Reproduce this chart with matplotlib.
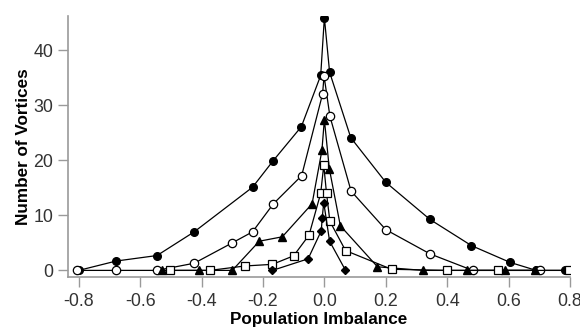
import matplotlib
matplotlib.use("Agg")
import matplotlib.pyplot as plt
from matplotlib.ticker import FuncFormatter

plt.rcParams['font.family'] = ['Liberation Sans', 'DejaVu Sans']

# Filled circles
fc_x = [-0.80, -0.678, -0.545, -0.424, -0.234, -0.167, -0.075, -0.012, 0.0, 0.017, 0.086, 0.20, 0.344, 0.479, 0.605, 0.69, 0.783]
fc_y = [0, 1.7, 2.7, 7.0, 15.1, 19.9, 26.1, 35.4, 45.9, 36.0, 24.1, 16.0, 9.25, 4.5, 1.45, 0, 0]
# Open circles
oc_x = [-0.806, -0.678, -0.545, -0.424, -0.30, -0.234, -0.166, -0.074, -0.006, -0.001, 0.018, 0.087, 0.20, 0.344, 0.483, 0.703]
oc_y = [0, 0, 0, 1.3, 5.0, 7.0, 12.1, 17.2, 32.0, 35.3, 28.0, 14.4, 7.4, 3.0, 0, 0]
# Filled triangles
tr_x = [-0.528, -0.409, -0.30, -0.212, -0.137, -0.04, -0.008, 0.0, 0.016, 0.052, 0.173, 0.322, 0.463, 0.588, 0.686]
tr_y = [0, 0, 0, 5.3, 6.1, 12.1, 21.8, 27.4, 18.5, 8.1, 0.65, 0, 0, 0, 0]
# Open squares
sq_x = [-0.503, -0.373, -0.259, -0.169, -0.10, -0.05, -0.012, -0.002, 0.007, 0.018, 0.069, 0.219, 0.398, 0.566, 0.797]
sq_y = [0, 0, 0.8, 1.1, 2.65, 6.4, 14.0, 19.1, 14.0, 8.9, 3.6, 0.2, 0, 0, 0]
# Filled diamonds
dm_x = [-0.169, -0.053, -0.01, -0.007, -0.002, 0.017, 0.068]
dm_y = [0, 2.1, 7.2, 9.6, 12.3, 5.3, 0.1]

x_ticks = [-0.8, -0.6, -0.4, -0.2, 0.0, 0.2, 0.4, 0.6, 0.8]
y_ticks = [0, 10, 20, 30, 40]

fig = plt.figure(figsize=(5.8, 3.29), dpi=100)
ax = fig.add_axes([68/580, 1-277/329, (570-68)/580, (277-16)/329])

lw = 0.9
ax.plot(fc_x, fc_y, '-o', color='black', lw=lw, ms=5.5, mfc='black', mec='black', zorder=3)
ax.plot(oc_x, oc_y, '-o', color='black', lw=lw, ms=6, mfc='white', mec='black', mew=0.9, zorder=4)
ax.plot(tr_x, tr_y, '-^', color='black', lw=lw, ms=6, mfc='black', mec='black', zorder=5)
ax.plot(sq_x, sq_y, '-s', color='black', lw=lw, ms=5.5, mfc='white', mec='black', mew=0.9, zorder=6)
ax.plot(dm_x, dm_y, '-D', color='black', lw=lw, ms=4.5, mfc='black', mec='black', zorder=7)

ax.set_xlim(-0.835, 0.80)
ax.set_ylim(-1.2, 46.2)
ax.set_xticks(x_ticks)
ax.set_yticks(y_ticks)
ax.xaxis.set_major_formatter(FuncFormatter(lambda v, p: f"{v:.1f}".replace('\u2212', '-')))
ax.yaxis.set_major_formatter(FuncFormatter(lambda v, p: f"{int(round(v))}"))

for s in ['top', 'right']:
    ax.spines[s].set_visible(False)
for s in ['left', 'bottom']:
    ax.spines[s].set_color('#9a9a9a')
    ax.spines[s].set_linewidth(1.2)
ax.tick_params(axis='both', direction='out', length=7, width=1, color='#9a9a9a',
               labelsize=12.8, labelcolor='#333333')
ax.tick_params(axis='x', pad=4.5)
ax.tick_params(axis='y', pad=3.5)

ax.set_xlabel('Population Imbalance', fontsize=12.3, fontweight='bold', labelpad=1.5)
ax.set_ylabel('Number of Vortices', fontsize=12.3, fontweight='bold', labelpad=2)

fig.savefig('out.png', dpi=100)
